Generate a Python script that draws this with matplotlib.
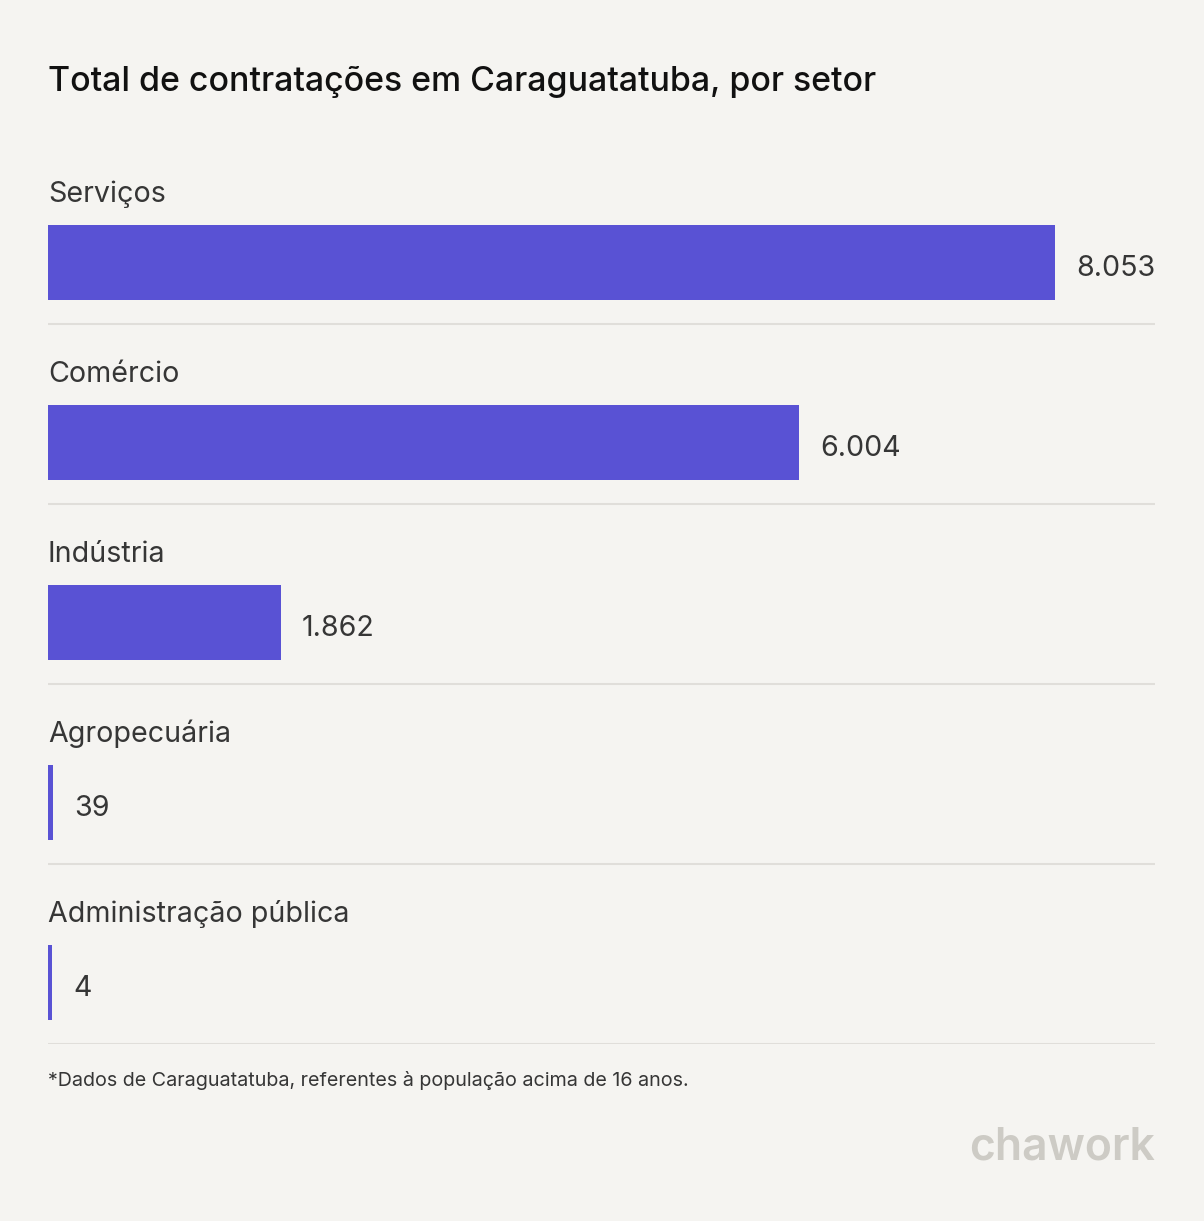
import matplotlib.pyplot as plt

plt.rcParams['font.family'] = ['Inter', 'DejaVu Sans']

# data
sectors = ['Serviços', 'Comércio', 'Indústria', 'Agropecuária', 'Administração pública']
hires = [8053, 6004, 1862, 39, 4]
value_labels = ['8.053', '6.004', '1.862', '39', '4']

title = 'Total de contratações em Caraguatatuba, por setor'
footnote = '*Dados de Caraguatatuba, referentes à população acima de 16 anos.'

BG = '#f5f4f1'
BAR = '#5952d4'
TEXT = '#363636'
GRID = '#e0deda'

W, H = 1204, 1221
fig = plt.figure(figsize=(W / 100, H / 100), dpi=100, facecolor=BG)

# axes: x from 48px to 1155px, y from 144px (5 rows of 180px)
left, right = 48, 1155
row = 180
top, bottom = 144, 144 + row * len(sectors)
ax = fig.add_axes([left / W, 1 - bottom / H, (right - left) / W, (bottom - top) / H])
ax.set_facecolor(BG)
xmax = max(hires) * (right - left) / 1007
ax.set_xlim(0, xmax)
ax.set_ylim(len(sectors), 0)
ax.axis('off')

px = xmax / (right - left)  # data units per pixel
bar_center = 118.5 / row
bar_h = 75 / row
ys = [i + bar_center for i in range(len(sectors))]
# tiny values still get a visible sliver, like the original
shown = [max(v, 4 * px) for v in hires]
ax.barh(ys, shown, height=bar_h, color=BAR, linewidth=0)

for i, (name, w, lab) in enumerate(zip(sectors, shown, value_labels)):
    ax.text(0, i + 47 / row, name, fontsize=20.6, color=TEXT, va='center_baseline', ha='left')
    ax.text(w + 21 * px, ys[i] + 3 / row, lab, fontsize=20.6, color=TEXT,
            va='center_baseline', ha='left')
    ax.axhline(i + 1, color=GRID, linewidth=1.5)

fig.text(left / W, 1 - 78 / H, title, fontsize=24.4, color='#111111', fontweight='medium',
         va='center_baseline', ha='left')
fig.text(left / W, 1 - 1078 / H, footnote, fontsize=14.2, color=TEXT, va='center_baseline', ha='left')
fig.text(1155 / W, 1 - 1143 / H, 'chawork', fontsize=32, color='#cdcbc5',
         fontweight='semibold', va='center_baseline', ha='right')

fig.savefig('out.png', dpi=100, facecolor=BG)
